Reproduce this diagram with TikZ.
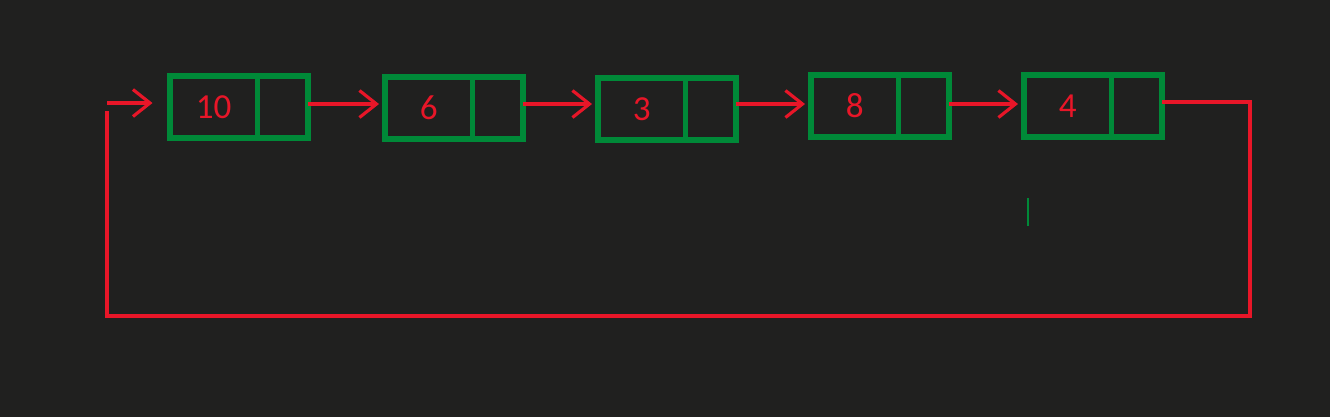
\documentclass[tikz,border=0pt]{standalone}
\usepackage{fontspec}
\setmainfont{Carlito}
\usetikzlibrary{positioning,arrows.meta}

\definecolor{sfondo}{RGB}{32,32,31}
\definecolor{verde}{RGB}{0,137,56}
\definecolor{rosso}{RGB}{232,22,40}

\tikzset{
  dato/.style={draw=verde, line width=3pt, minimum width=1.75cm, minimum height=1.24cm,
    inner sep=0pt, outer sep=0pt, text=rosso, font=\fontsize{20}{20}\selectfont},
  punt/.style={draw=verde, line width=3pt, minimum width=1.01cm, minimum height=1.24cm,
    inner sep=0pt, outer sep=0pt},
  freccia/.style={-{Straight Barb[length=3.4mm, width=5.4mm]}, rosso, line width=1.8pt},
  linea/.style={rosso, line width=1.8pt}
}

\begin{document}
\begin{tikzpicture}[x=0.02cm, y=-0.02cm]

% Sfondo
\fill[sfondo] (0,0) rectangle (1330,417);

% Nodi della lista
\foreach \v/\x/\y [count=\i] in {10/170/107, 6/385/108, 3/598/109, 8/811/106, 4/1024/106} {
  \node[dato, anchor=west] (d\i) at (\x,\y) {\v};
  \node[punt, right=0pt of d\i] (p\i) {};
}

% Frecce tra i nodi
\coordinate (livello) at (0,104);
\foreach \i/\j in {1/2, 2/3, 3/4, 4/5}
  \draw[freccia, shorten >=1.2mm] (p\i.east |- livello) -- (d\j.west |- livello);

% Ritorno al primo nodo
\coordinate (ritorno) at (1250,102);
\coordinate (basso) at (107,316);
\coordinate (fine) at (107,111);
\coordinate (inizio) at (107,103);
\draw[linea] (p5.east |- ritorno) -- (ritorno) |- (basso) -- (fine);
\draw[freccia, shorten >=3.5mm] (inizio) -- (inizio -| d1.west);

% Segno verde
\draw[verde, line width=0.6pt] (1028,198) -- (1028,226);

\end{tikzpicture}
\end{document}
